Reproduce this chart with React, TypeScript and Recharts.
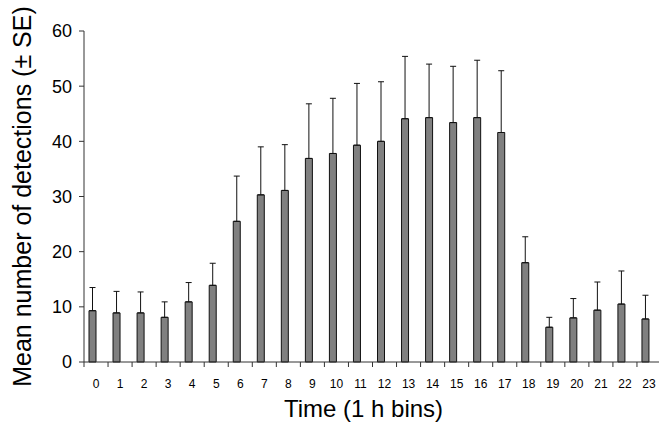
import React from "react";
import {
  BarChart,
  Bar,
  XAxis,
  YAxis,
  ErrorBar,
  Label,
} from "recharts";

// hourly bins, mean detections and the upper standard error
const hours = [
  "0", "1", "2", "3", "4", "5", "6", "7", "8", "9", "10", "11",
  "12", "13", "14", "15", "16", "17", "18", "19", "20", "21", "22", "23",
];
const means = [
  9.3, 8.9, 8.9, 8.1, 10.9, 13.9, 25.5, 30.3, 31.1, 36.9, 37.8, 39.3,
  40.0, 44.1, 44.3, 43.4, 44.3, 41.6, 18.0, 6.3, 8.0, 9.4, 10.5, 7.8,
];
const se = [
  4.2, 3.9, 3.8, 2.8, 3.5, 4.0, 8.2, 8.7, 8.3, 9.9, 10.0, 11.2,
  10.8, 11.3, 9.7, 10.2, 10.4, 11.2, 4.7, 1.8, 3.5, 5.1, 6.0, 4.3,
];
const yTicks = [0, 10, 20, 30, 40, 50, 60];

const data = hours.map((h, i) => ({
  hour: h,
  mean: means[i],
  err: [0, se[i]],
}));

const FONT = '"Liberation Sans", Arial, Helvetica, sans-serif';
const AXIS = "#333";
const TICK_SIZE = 6;
const TICK_MARGIN = 11;

// label at the bin centre, tick mark on the bin's left boundary
function HourTick(props: any) {
  const { x, y, payload } = props;
  const half = payload.offset || 0;
  const axisY = y - TICK_SIZE - TICK_MARGIN;
  return (
    <g>
      <line
        x1={x - half}
        x2={x - half}
        y1={axisY}
        y2={axisY + 5}
        stroke={AXIS}
        strokeWidth={1}
      />
      <text
        x={x}
        y={y}
        dy="0.71em"
        textAnchor="middle"
        fontSize={12}
        fontFamily={FONT}
        fill="#000"
      >
        {payload.value}
      </text>
    </g>
  );
}

export default function App() {
  return (
    <div
      style={{
        position: "fixed",
        left: 0,
        top: 0,
        width: 659,
        height: 424,
        overflow: "hidden",
        background: "#fff",
        fontFamily: FONT,
      }}
    >
      <BarChart
        width={662}
        height={424}
        data={data}
        margin={{ top: 31, right: 1, bottom: 0, left: 0 }}
        barGap={0}
        barSize={7}
      >
        <XAxis
          dataKey="hour"
          interval={0}
          axisLine={{ stroke: AXIS, strokeWidth: 1 }}
          tickLine={false}
          tickSize={TICK_SIZE}
          tickMargin={TICK_MARGIN}
          height={62}
          tick={<HourTick />}
        >
          <Label
            content={({ viewBox }: any) => (
              <text
                x={viewBox.x + viewBox.width / 2 - 9}
                y={416.7}
                textAnchor="middle"
                fontSize={24}
                fontFamily={FONT}
                fill="#000"
              >
                Time (1 h bins)
              </text>
            )}
          />
        </XAxis>
        <YAxis
          domain={[0, 60]}
          ticks={yTicks}
          width={84}
          tickSize={5}
          tickMargin={7}
          stroke={AXIS}
          tick={{ fontSize: 18, fill: "#000", fontFamily: FONT }}
        >
          <Label
            content={({ viewBox }: any) => {
              const cy = viewBox.y + viewBox.height / 2;
              return (
                <text
                  x={22}
                  y={cy}
                  transform={`rotate(-90, 22, ${cy})`}
                  textAnchor="middle"
                  dominantBaseline="central"
                  fontSize={25}
                  fontFamily={FONT}
                  fill="#000"
                >
                  Mean number of detections (± SE)
                </text>
              );
            }}
          />
        </YAxis>
        <Bar
          dataKey="mean"
          fill="#808080"
          stroke="#111"
          strokeWidth={1}
          isAnimationActive={false}
        >
          <ErrorBar
            dataKey="err"
            direction="y"
            width={3}
            stroke="#111"
            strokeWidth={1}
            isAnimationActive={false}
          />
        </Bar>
        {/* empty partner series: keeps the bar in the left half of each bin */}
        <Bar
          dataKey="none"
          fill="none"
          legendType="none"
          isAnimationActive={false}
        />
      </BarChart>
    </div>
  );
}
